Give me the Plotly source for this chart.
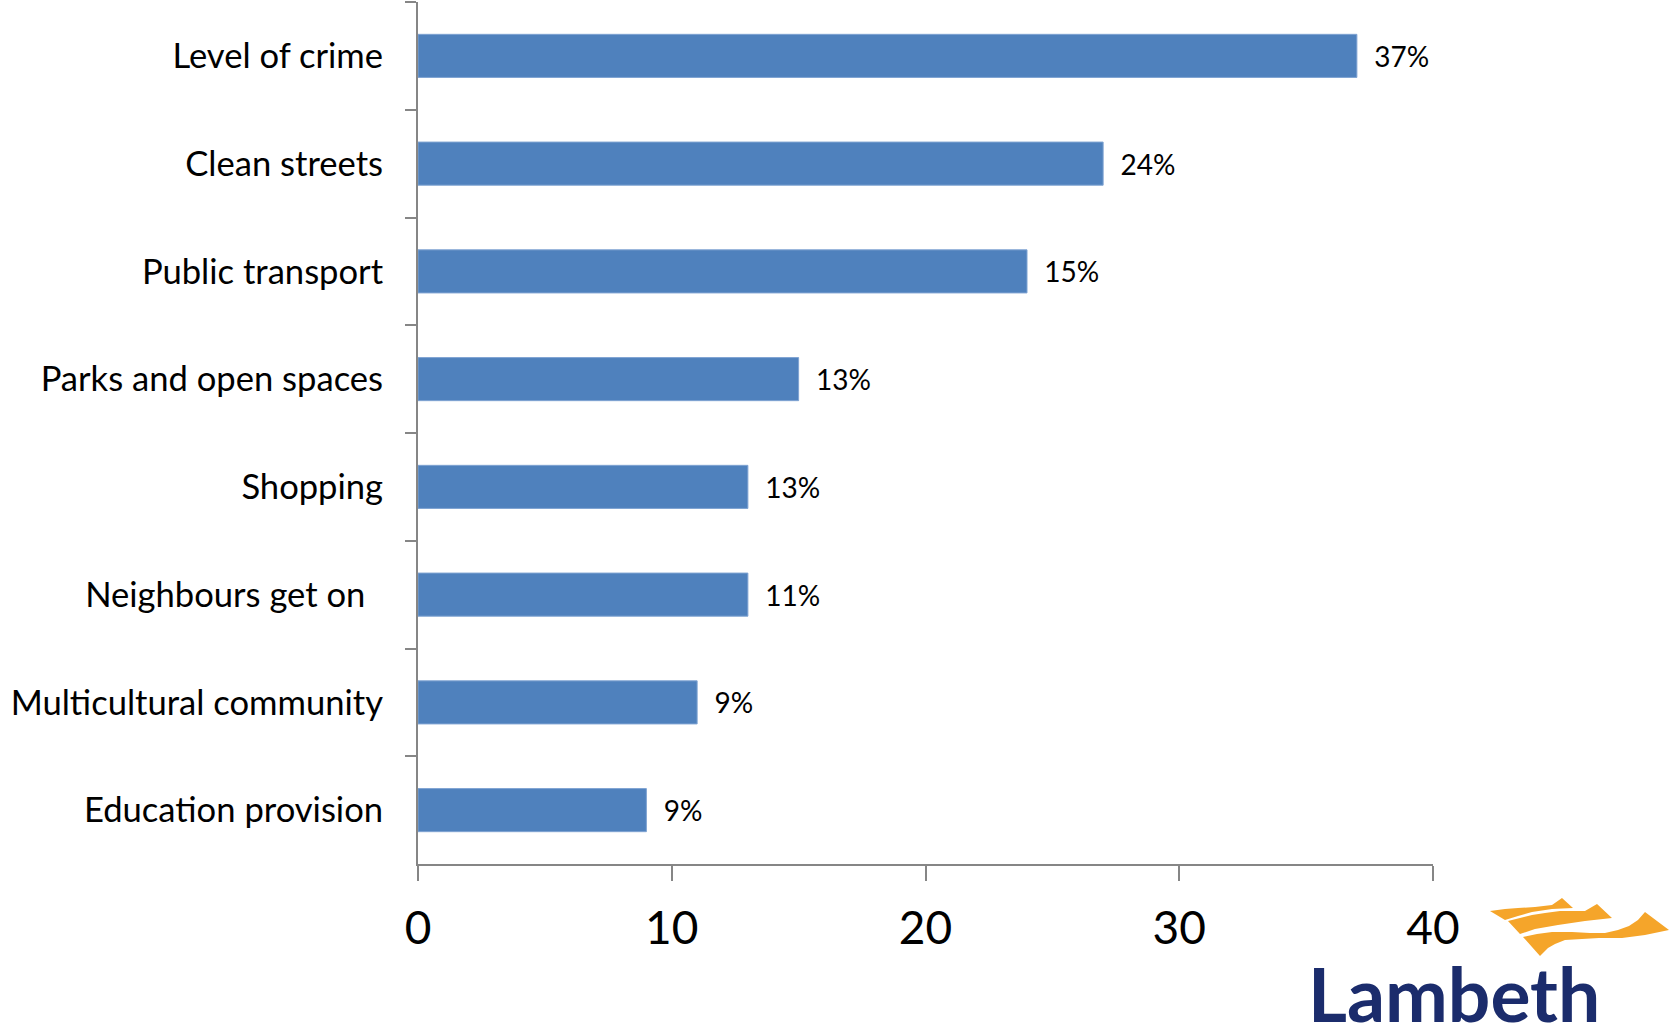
import plotly.graph_objects as go

categories = ["Level of crime", "Clean streets", "Public transport", "Parks and open spaces",
              "Shopping", "Neighbours get on\u00a0\u00a0", "Multicultural community", "Education provision"]
values = [37, 27, 24, 15, 13, 13, 11, 9]
labels = ["37%", "24%", "15%", "13%", "13%", "11%", "9%", "9%"]
x_ticks = [0, 10, 20, 30, 40]

W, H = 1672, 1024
L, R, T, B = 418, 239, 2, 160
pw, ph = W - L - R, H - T - B

def px(x):
    return (x - L) / pw

def py(y):
    return (H - B - y) / ph

fig = go.Figure(go.Bar(
    x=values, y=categories, orientation="h",
    marker=dict(color="#4F81BD", line=dict(color="#7FA3D2", width=1)),
    text=["\u00a0\u00a0" + t for t in labels], textposition="outside", cliponaxis=False,
    textfont=dict(family="Lato", size=28, color="#000000"),
    width=0.4,
))

fig.update_layout(
    width=W, height=H, margin=dict(l=L, r=R, t=T, b=B, autoexpand=False),
    paper_bgcolor="white", plot_bgcolor="white", showlegend=False,
    font=dict(family="Lato", color="#000000"),
    bargap=0.6,
)
fig.update_xaxes(range=[0, 40], tickvals=x_ticks, showgrid=False, zeroline=False,
                 showline=True, linecolor="#868686", linewidth=2, automargin=False,
                 ticks="outside", ticklen=15, tickwidth=2, tickcolor="#868686",
                 tickfont=dict(family="Lato", size=46, color="#000000"),
                 ticklabelstandoff=8)
fig.update_yaxes(categoryorder="array", categoryarray=categories, autorange="reversed",
                 showgrid=False, zeroline=False, tickson="boundaries", automargin=False,
                 showline=True, linecolor="#868686", linewidth=2,
                 ticks="outside", ticklen=11, tickwidth=2, tickcolor="#868686",
                 tickfont=dict(family="Lato", size=34.6, color="#000000"),
                 ticklabelstandoff=26)

# Lambeth logo (decoration)
orange = "#F5A52A"
bands = [
    [(1490, 911), (1505, 909), (1518, 908), (1535, 907), (1552, 905), (1562, 898), (1573, 908),
     (1552, 909), (1532, 912), (1518, 916), (1505, 920)],
    [(1508, 921), (1520, 918), (1532, 915), (1545, 913), (1560, 911), (1585, 911), (1597, 904),
     (1612, 918), (1585, 921), (1558, 925), (1535, 929), (1520, 934)],
    [(1523, 937), (1537, 934), (1552, 932), (1572, 932), (1590, 933), (1605, 933), (1618, 930),
     (1629, 926), (1638, 920), (1645, 912), (1669, 930), (1645, 935), (1622, 938), (1599, 938),
     (1565, 940), (1555, 944), (1548, 948), (1540, 956)],
]
for b in bands:
    s = "M " + " L ".join(f"{px(a):.5f},{py(c):.5f}" for a, c in b) + " Z"
    fig.add_shape(type="path", xref="paper", yref="paper", path=s,
                  fillcolor=orange, line=dict(width=0), layer="above")

fig.add_annotation(text="<b>Lambeth</b>", xref="paper", yref="paper",
                   x=px(1306), y=py(1040), xanchor="left", yanchor="bottom",
                   showarrow=False, font=dict(family="Lato", size=75, color="#1B2C6C"))

fig.write_html("out.html", config={"displayModeBar": False},
               post_script="document.body.style.margin='0';")
